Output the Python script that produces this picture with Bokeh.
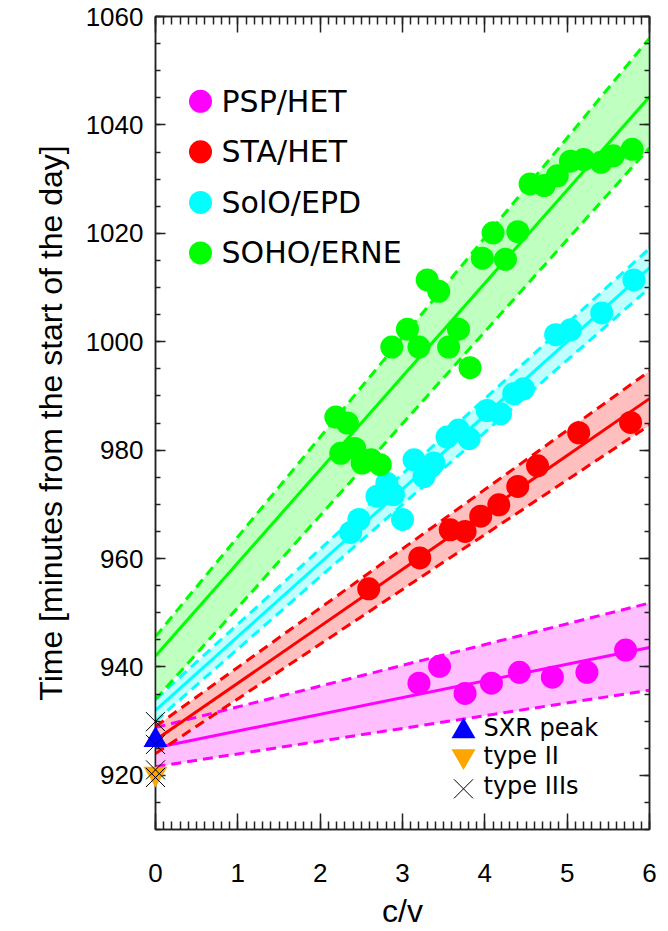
import numpy as np
from bokeh.plotting import figure
from bokeh.models import FixedTicker, LinearAxis, Label
from bokeh.embed import file_html
from bokeh.resources import INLINE

# ---------------- data ----------------
psp_cv = [3.20, 3.45, 3.76, 4.08, 4.42, 4.82, 5.24, 5.71]
psp_t = [937.0, 940.1, 935.1, 937.0, 939.0, 938.1, 939.0, 943.1]

sta_cv = [2.59, 3.21, 3.58, 3.76, 3.95, 4.17, 4.40, 4.64, 5.14, 5.77]
sta_t = [954.4, 960.1, 965.3, 965.0, 967.8, 969.9, 973.3, 977.1, 983.2, 985.1]

solo_cv = [2.37, 2.47, 2.69, 2.81, 2.89, 3.00, 3.14, 3.26, 3.38, 3.54,
           3.68, 3.81, 4.03, 4.19, 4.35, 4.47, 4.86, 5.04, 5.42, 5.81]
solo_t = [964.8, 967.2, 971.5, 973.9, 971.8, 967.2, 978.2, 975.1, 977.6, 982.4,
          983.7, 982.1, 987.3, 986.7, 990.4, 991.3, 1001.3, 1002.2, 1005.3, 1011.4]

soho_cv = [2.19, 2.33, 2.25, 2.42, 2.51, 2.62, 2.73, 2.87, 3.06, 3.20,
           3.30, 3.44, 3.56, 3.68, 3.82, 3.97, 4.10, 4.25, 4.40, 4.55,
           4.72, 4.88, 5.04, 5.20, 5.41, 5.56, 5.79]
soho_t = [986.1, 985.0, 979.4, 980.3, 977.6, 978.2, 977.3, 999.0, 1002.3, 999.0,
          1011.4, 1009.3, 999.0, 1002.3, 995.2, 1015.4, 1020.1, 1015.2, 1020.3, 1029.1,
          1028.8, 1030.6, 1033.3, 1033.6, 1033.1, 1034.3, 1035.5]

# linear fits: [intercept, slope] for centre, upper and lower limits
psp_fit, psp_up, psp_lo = [925.1, 3.08], [928.8, 3.83], [921.6, 2.35]
sta_fit, sta_up, sta_lo = [926.5, 10.5], [929.0, 10.93], [924.0, 10.1]
solo_fit, solo_up, solo_lo = [932.0, 13.6], [934.0, 13.87], [930.0, 13.32]
soho_fit, soho_up, soho_lo = [942.0, 17.2], [945.6, 18.4], [934.0, 16.96]

sxr_t = [926.5]
typeii_t = [920.3]
typeiii_t = [929.9, 925.7, 921.0, 919.6]

x_ticks = [0, 1, 2, 3, 4, 5, 6]
y_ticks = [920, 940, 960, 980, 1000, 1020, 1040, 1060]

names = ["PSP/HET", "STA/HET", "SolO/EPD", "SOHO/ERNE"]
marker_names = ["SXR peak", "type II", "type IIIs"]
# --------------------------------------

colors = ["#ff00ff", "#ff0000", "#00ffff", "#00ff00"]
band_colors = ["#ffbfff", "#ffbfbf", "#bfffff", "#bfffbf"]
series = [
    (psp_cv, psp_t, psp_fit, psp_up, psp_lo),
    (sta_cv, sta_t, sta_fit, sta_up, sta_lo),
    (solo_cv, solo_t, solo_fit, solo_up, solo_lo),
    (soho_cv, soho_t, soho_fit, soho_up, soho_lo),
]

X0, X1 = 0, 6
Y0, Y1 = 910, 1060
W, H = 668, 931
BL, BR, BT, BB = 155, 19, 16, 95
FW, FH = W - BL - BR, H - BT - BB

p = figure(width=W, height=H, x_range=(X0, X1), y_range=(Y0, Y1),
           output_backend="svg", toolbar_location=None,
           min_border_left=BL, min_border_right=BR, min_border_top=BT,
           min_border_bottom=BB, x_axis_location=None, y_axis_location=None)
p.grid.visible = False
p.outline_line_color = "#222222"
p.outline_line_width = 1.5
p.background_fill_color = "white"
p.border_fill_color = "white"

FONT = "Liberation Sans"


def style_axis(ax, major_len, minor_len):
    ax.axis_line_color = "#222222"
    ax.axis_line_width = 1.5
    ax.major_tick_line_color = "#222222"
    ax.minor_tick_line_color = "#222222"
    ax.major_tick_line_width = 1.5
    ax.minor_tick_line_width = 1.5
    ax.major_tick_in = major_len
    ax.major_tick_out = 0
    ax.minor_tick_in = minor_len
    ax.minor_tick_out = 0
    ax.major_label_text_font = FONT
    ax.major_label_text_font_size = "26px"
    ax.major_label_text_color = "black"
    ax.axis_label_text_font = FONT
    ax.axis_label_text_font_style = "normal"
    ax.axis_label_text_font_size = "32px"
    ax.axis_label_text_color = "black"


xt = FixedTicker(ticks=x_ticks, minor_ticks=list(np.round(np.arange(X0, X1 + 0.001, 0.1), 2)))
yt = FixedTicker(ticks=y_ticks, minor_ticks=list(range(Y0, Y1 + 1, 5)))

bx = LinearAxis(ticker=xt, axis_label="c/v")
style_axis(bx, 16, 8)
bx.major_label_standoff = 34
bx.axis_label_standoff = 8
p.add_layout(bx, "below")

tx = LinearAxis(ticker=xt)
style_axis(tx, 16, 8)
tx.major_label_overrides = {t: "" for t in x_ticks}
tx.major_label_standoff = 0
p.add_layout(tx, "above")

ly = LinearAxis(ticker=yt, axis_label="Time [minutes from the start of the day]")
style_axis(ly, 10, 5)
ly.major_label_standoff = 12
ly.axis_label_standoff = 14
p.add_layout(ly, "left")

ry = LinearAxis(ticker=yt)
style_axis(ry, 10, 5)
ry.major_label_overrides = {t: "" for t in y_ticks}
ry.major_label_standoff = 0
p.add_layout(ry, "right")

xs = np.array([X0, X1], dtype=float)

# bands
for (cv, t, fit, up, lo), band in zip(series, band_colors):
    p.varea(x=xs, y1=lo[0] + lo[1] * xs, y2=up[0] + up[1] * xs, fill_color=band)

# fit lines and limits
for (cv, t, fit, up, lo), col in zip(series, colors):
    p.line(xs, fit[0] + fit[1] * xs, line_color=col, line_width=3)
    p.line(xs, up[0] + up[1] * xs, line_color=col, line_width=3, line_dash="10 6")
    p.line(xs, lo[0] + lo[1] * xs, line_color=col, line_width=3, line_dash="10 6")

# points
for (cv, t, fit, up, lo), col in zip(series, colors):
    p.scatter(cv, t, size=23, fill_color=col, line_color=None)

# markers at c/v = 0
MK = [dict(marker="triangle", size=24, fill_color="#0000ff", line_color=None),
      dict(marker="inverted_triangle", size=24, fill_color="#ffa500", line_color=None),
      dict(marker="x", size=27, line_color="black", line_width=1)]
for tt, mk in zip([sxr_t, typeii_t, typeiii_t], [MK[0], MK[1], MK[2]]):
    r = p.scatter([0] * len(tt), tt, **mk)
    r.level = "overlay"


# ---- legends (layout in screen pixels, converted to plot units) ----
def px2x(px):
    return X0 + (px - BL) / FW * (X1 - X0)


def py2y(py):
    return Y1 - (py - BT) / FH * (Y1 - Y0)


LEG1_X, LEG1_Y0, LEG1_DY, LEG1_TX = 200, 101.5, 51, 221
for i, (n, col) in enumerate(zip(names, colors)):
    yy = py2y(LEG1_Y0 + i * LEG1_DY)
    p.scatter([px2x(LEG1_X)], [yy], size=23, fill_color=col, line_color=None)
    p.add_layout(Label(x=px2x(LEG1_TX), y=yy, text=n, text_baseline="middle",
                       text_font="DejaVu Sans", text_font_size="30px", text_color="black"))

LEG2_X, LEG2_TX = 463, 483
leg2_mk_y = [737, 762, 795]
leg2_tx_y = [734, 762, 792]
for n, mk, my, ty in zip(marker_names, MK, leg2_mk_y, leg2_tx_y):
    p.scatter([px2x(LEG2_X)], [py2y(my)], **mk)
    p.add_layout(Label(x=px2x(LEG2_TX), y=py2y(ty), text=n, text_baseline="middle",
                       text_font="DejaVu Sans", text_font_size="24px", text_color="black"))

open("out.html", "w").write(file_html(p, INLINE))
